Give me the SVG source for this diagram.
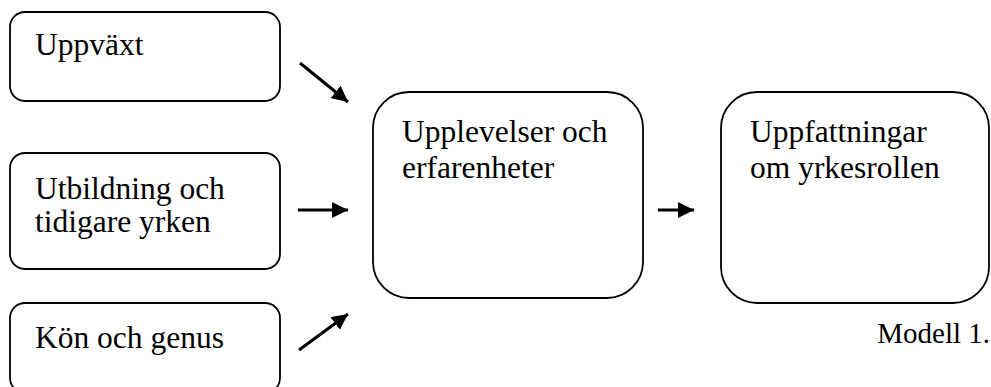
<svg xmlns="http://www.w3.org/2000/svg" width="991" height="387" viewBox="0 0 991 387">
  <style>
    .box { fill: #ffffff; stroke: #000000; stroke-width: 1.8; }
    .lbl { font-family: "Liberation Serif", "Times New Roman", serif; font-size: 31.5px; fill: #000000; }
    .cap { font-family: "Liberation Serif", "Times New Roman", serif; font-size: 29px; fill: #000000; }
    .edge { stroke: #000000; stroke-width: 3; fill: none; marker-end: url(#head); }
  </style>
  <defs>
    <marker id="head" markerUnits="userSpaceOnUse" markerWidth="18" markerHeight="16" refX="16" refY="8" orient="auto">
      <path d="M0,0 L16,8 L0,16 Z" fill="#000000"/>
    </marker>
  </defs>
  <rect width="991" height="387" fill="#ffffff"/>

  <g id="uppvaxt">
    <rect class="box" x="10" y="12" width="270" height="89" rx="15" ry="15"/>
    <text class="lbl" x="35" y="55">Uppväxt</text>
  </g>

  <g id="utbildning">
    <rect class="box" x="10" y="153" width="270" height="116" rx="15" ry="15"/>
    <text class="lbl" x="35" y="199">Utbildning och</text>
    <text class="lbl" x="35" y="232">tidigare yrken</text>
  </g>

  <g id="kon">
    <rect class="box" x="10" y="303" width="270" height="90" rx="15" ry="15"/>
    <text class="lbl" x="35" y="348">Kön och genus</text>
  </g>

  <g id="upplevelser">
    <rect class="box" x="373" y="92" width="270" height="206" rx="36" ry="36"/>
    <text class="lbl" x="402" y="142">Upplevelser och</text>
    <text class="lbl" x="402" y="178">erfarenheter</text>
  </g>

  <g id="uppfattningar">
    <rect class="box" x="721" y="92" width="268" height="211" rx="36" ry="36"/>
    <text class="lbl" x="750" y="142">Uppfattningar</text>
    <text class="lbl" x="750" y="178">om yrkesrollen</text>
  </g>

  <g id="connectors">
    <line class="edge" x1="300" y1="63" x2="348" y2="102"/>
    <line class="edge" x1="298" y1="210" x2="348" y2="210"/>
    <line class="edge" x1="299" y1="350" x2="348" y2="314"/>
    <line class="edge" x1="658" y1="210" x2="694" y2="210"/>
  </g>

  <text class="cap" x="990" y="343" text-anchor="end">Modell 1.</text>
</svg>
